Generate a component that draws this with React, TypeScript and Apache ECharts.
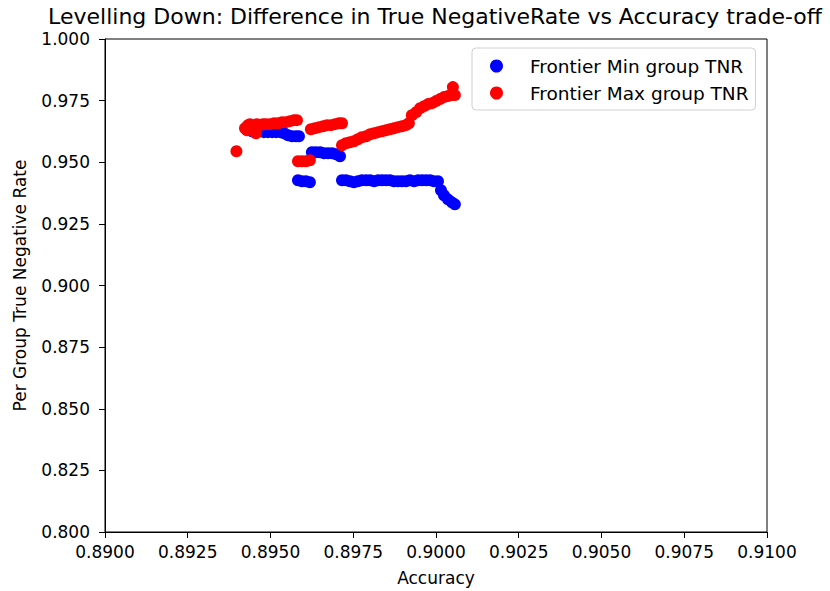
import React, { useEffect, useRef } from "react";
import * as echarts from "echarts";

const titleText = "Levelling Down: Difference in True NegativeRate vs Accuracy trade-off";
const xName = "Accuracy";
const yName = "Per Group True Negative Rate";
const minSeriesName = "Frontier Min group TNR";
const maxSeriesName = "Frontier Max group TNR";

const minAcc = [
  0.89444, 0.89456, 0.89468, 0.8948, 0.89492, 0.89505, 0.89517, 0.89529, 0.89541,
  0.89553, 0.89565, 0.89577, 0.89586,
  0.89583, 0.89595, 0.89607, 0.89619,
  0.89625, 0.89637, 0.8965, 0.89662, 0.89674, 0.89686, 0.89698, 0.8971,
  0.89716, 0.89728, 0.8974, 0.89752, 0.89764, 0.89776, 0.89789, 0.89801, 0.89813, 0.89825,
  0.89837, 0.89849, 0.89861, 0.89873, 0.89885, 0.89897, 0.89909, 0.89921, 0.89934, 0.89946,
  0.89958, 0.8997, 0.89982, 0.89994, 0.90006,
  0.90015, 0.90024, 0.90036, 0.90048, 0.90057,
];
const minTnr = [
  0.9626, 0.9626, 0.9626, 0.9622, 0.9622, 0.9622, 0.9622, 0.9622, 0.96179,
  0.96098, 0.96057, 0.96057, 0.96057,
  0.94268, 0.94228, 0.94228, 0.94187,
  0.95407, 0.95407, 0.95407, 0.95366, 0.95366, 0.95366, 0.95325, 0.95244,
  0.94268, 0.94268, 0.94228, 0.94187, 0.94228, 0.94268, 0.94268, 0.94268, 0.94228, 0.94268,
  0.94268, 0.94268, 0.94268, 0.94228, 0.94228, 0.94228, 0.94228, 0.94268, 0.94228, 0.94268,
  0.94268, 0.94268, 0.94268, 0.94228, 0.94228,
  0.93862, 0.93659, 0.93496, 0.93374, 0.93293,
];

const maxAcc = [
  0.89397,
  0.89423, 0.89429, 0.89432, 0.89438, 0.89444, 0.8945, 0.89456, 0.89459, 0.89468, 0.89477,
  0.89486, 0.89498, 0.89511, 0.89523, 0.89535, 0.89547, 0.89559, 0.89571, 0.8958,
  0.89583, 0.89595, 0.89607, 0.89619,
  0.89622, 0.89634, 0.89647, 0.89659, 0.89671, 0.89683, 0.89695, 0.89707, 0.89716,
  0.89716, 0.89728, 0.8974, 0.89752, 0.89764, 0.89776, 0.89789, 0.89801, 0.89813, 0.89825,
  0.89837, 0.89849, 0.89861, 0.89873, 0.89885, 0.89897, 0.89909, 0.89918,
  0.89927, 0.8994, 0.89952, 0.89964, 0.89976, 0.89988, 0.9, 0.90012, 0.90024, 0.90036,
  0.90048, 0.90057, 0.90051,
];
const maxTnr = [
  0.95447,
  0.96382, 0.96301, 0.96504, 0.96545, 0.96423, 0.9626, 0.96179, 0.96545, 0.96504, 0.96545,
  0.96545, 0.96545, 0.96585, 0.96585, 0.96626, 0.96626, 0.96667, 0.96707, 0.96707,
  0.95041, 0.95041, 0.95041, 0.95081,
  0.96341, 0.96382, 0.96423, 0.96463, 0.96504, 0.96504, 0.96545, 0.96585, 0.96585,
  0.95691, 0.95772, 0.95813, 0.95854, 0.95935, 0.96016, 0.96057, 0.96138, 0.96179, 0.9622,
  0.9626, 0.96301, 0.96341, 0.96382, 0.96423, 0.96463, 0.96504, 0.96585,
  0.96911, 0.97033, 0.97195, 0.97276, 0.97358, 0.97398, 0.9748, 0.97561, 0.97642, 0.97683,
  0.97724, 0.97724, 0.98049,
];

const FONT = "DejaVu Sans";

export default function App() {
  const ref = useRef<HTMLDivElement>(null);
  useEffect(() => {
    if (!ref.current) return;
    const chart = echarts.init(ref.current, undefined, { renderer: "svg" });
    const axisCommon = {
      axisLine: { show: true, onZero: false, lineStyle: { color: "#000", width: 1 } },
      axisTick: { show: true, length: 6, lineStyle: { color: "#000" } },
      splitLine: { show: false },
      nameLocation: "middle" as const,
      nameTextStyle: { fontFamily: FONT, fontSize: 17, color: "#000" },
    };
    chart.setOption({
      animation: false,
      backgroundColor: "#fff",
      title: {
        text: titleText,
        left: 435,
        top: 4,
        padding: 0,
        textAlign: "center",
        textStyle: {
          fontFamily: FONT,
          fontSize: 22,
          lineHeight: 24,
          fontWeight: "normal",
          color: "#000",
        },
      },
      legend: {
        orient: "vertical",
        left: 472,
        top: 48,
        padding: [8, 7, 7, 18],
        itemGap: 7,
        itemWidth: 13,
        itemHeight: 13,
        borderColor: "#d0d0d0",
        borderWidth: 1,
        borderRadius: 4,
        backgroundColor: "#fff",
        textStyle: {
          fontFamily: FONT,
          fontSize: 18.5,
          lineHeight: 20,
          color: "#000",
          padding: [0, 0, 0, 22],
        },
        data: [
          { name: minSeriesName, icon: "circle" },
          { name: maxSeriesName, icon: "circle" },
        ],
      },
      grid: {
        left: 105,
        right: 63,
        top: 39,
        bottom: 59,
        show: true,
        borderColor: "#000",
        borderWidth: 1,
      },
      xAxis: {
        ...axisCommon,
        type: "value",
        min: 0.89,
        max: 0.91,
        interval: 0.0025,
        name: xName,
        nameGap: 37,
        axisLabel: {
          fontFamily: FONT,
          fontSize: 17,
          color: "#000",
          margin: 11,
          formatter: (v: number) => v.toFixed(4),
        },
      },
      yAxis: {
        ...axisCommon,
        type: "value",
        min: 0.8,
        max: 1.0,
        interval: 0.025,
        name: yName,
        nameGap: 77,
        axisLabel: {
          fontFamily: FONT,
          fontSize: 17,
          lineHeight: 17,
          color: "#000",
          margin: 15,
          formatter: (v: number) => v.toFixed(3),
        },
      },
      series: [
        {
          name: minSeriesName,
          type: "scatter",
          symbol: "circle",
          symbolSize: 12,
          itemStyle: { color: "#0000ff", opacity: 1 },
          data: minAcc.map((x, i) => [x, minTnr[i]]),
        },
        {
          name: maxSeriesName,
          type: "scatter",
          symbol: "circle",
          symbolSize: 12,
          itemStyle: { color: "#ff0000", opacity: 1 },
          data: maxAcc.map((x, i) => [x, maxTnr[i]]),
        },
      ],
    });
    return () => chart.dispose();
  }, []);
  return (
    <div
      ref={ref}
      style={{ position: "absolute", left: 0, top: 0, width: 830, height: 591 }}
    />
  );
}
